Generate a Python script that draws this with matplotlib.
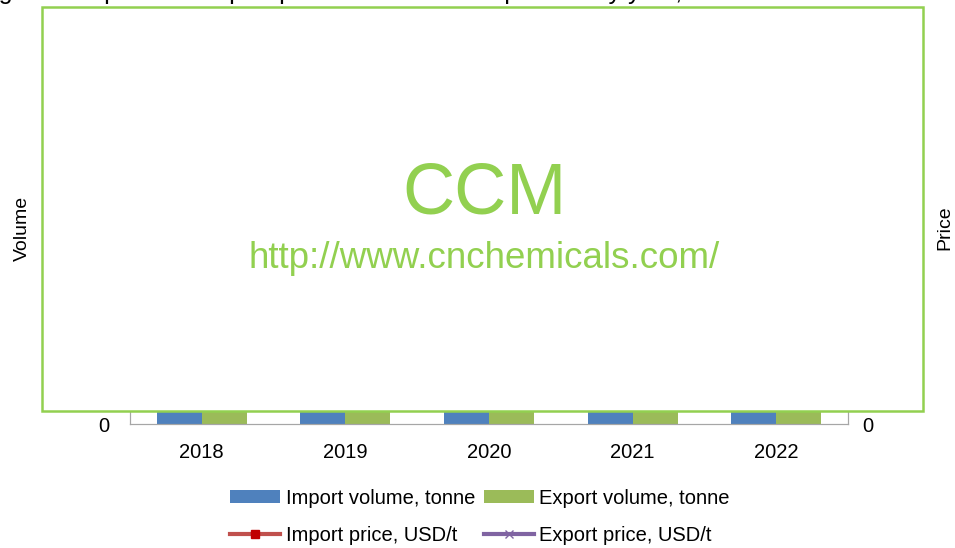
import matplotlib
matplotlib.use("Agg")
import matplotlib.pyplot as plt
from matplotlib.patches import Rectangle, Patch
from matplotlib.lines import Line2D
import numpy as np

plt.rcParams['font.family'] = ['Liberation Sans', 'DejaVu Sans']

years = ["2018", "2019", "2020", "2021", "2022"]
import_volume = [8200, 9500, 7800, 10300, 9100]
export_volume = [21000, 23500, 19800, 25200, 22600]
import_price = [1850, 1720, 1640, 2100, 2350]
export_price = [1450, 1380, 1290, 1750, 1980]

W, H = 955, 548
fig = plt.figure(figsize=(W / 100, H / 100), dpi=100)
ax = fig.add_axes([130 / W, 124 / H, 718 / W, 404 / H])
ax2 = ax.twinx()

x = np.arange(len(years))
bw = 0.313
blue = "#4F81BD"
green = "#9BBB59"
ax.bar(x - bw, import_volume, width=bw, align='edge', color=blue, zorder=2)
ax.bar(x, export_volume, width=bw, align='edge', color=green, zorder=2)
ax2.plot(x, import_price, color="#C0504D", lw=3, marker='s', mfc="#C00000", mec="#C00000", ms=6)
ax2.plot(x, export_price, color="#8064A2", lw=3, marker='x', mec="#8064A2", ms=6)

ax.set_xlim(-0.5, len(years) - 0.5)
ax.set_ylim(0, 35000)
ax.set_yticks(np.arange(0, 35001, 5000))
ax.set_yticklabels([f"{v:,}" for v in range(0, 35001, 5000)])
ax2.set_ylim(0, 3500)
ax2.set_yticks([0])
ax2.set_yticklabels(["0"])
ax.set_xticks(x)
ax.set_xticklabels(years)
for a in (ax, ax2):
    a.spines["top"].set_visible(False)
    for s in ("left", "right", "bottom"):
        a.spines[s].set_color("#A6A6A6")
    a.tick_params(length=0, labelsize=14.5, colors="#000000")
ax.tick_params(axis='x', pad=14)
ax.tick_params(axis='y', pad=15)
ax2.tick_params(axis='y', pad=10)

fig.text(22 / W, 1 - 228 / H, "Volume", rotation=90, ha='center', va='center', fontsize=14)
fig.text(945 / W, 1 - 228 / H, "Price", rotation=90, ha='center', va='center', fontsize=14)

fig.text(-22 / W, 1 + 1 / H, "Figure 1 Import and export price and volume of product by year, 2018-2022",
         ha='left', va='baseline', fontsize=18, zorder=1)

rect = Rectangle((42 / W, 1 - 411 / H), (923 - 42) / W, (411 - 7) / H, transform=fig.transFigure,
                 facecolor='white', edgecolor='#92D050', lw=1.8, zorder=5)
fig.add_artist(rect)
wm = "#92D050"
fig.text(484 / W, 1 - 195 / H, "CCM", ha='center', va='center', fontsize=52, color=wm, zorder=6)
fig.text(484 / W, 1 - 258 / H, "http://www.cnchemicals.com/", ha='center', va='center', fontsize=26.5,
         color=wm, zorder=6)

handles = [
    Patch(facecolor=blue, label="Import volume, tonne"),
    Line2D([], [], color="#C0504D", lw=3, marker='s', mfc="#C00000", mec="#C00000", ms=6,
           label="Import price, USD/t"),
    Patch(facecolor=green, label="Export volume, tonne"),
    Line2D([], [], color="#8064A2", lw=3, marker='x', mec="#8064A2", ms=6, label="Export price, USD/t"),
]
fig.legend(handles=handles, ncol=2, loc='center', bbox_to_anchor=(480 / W, 1 - 517 / H),
           frameon=False, fontsize=14.5, handlelength=2.5, handleheight=0.6, handletextpad=0.25,
           columnspacing=0.45, labelspacing=0.9, borderpad=0)

fig.savefig("out.png", dpi=100)
